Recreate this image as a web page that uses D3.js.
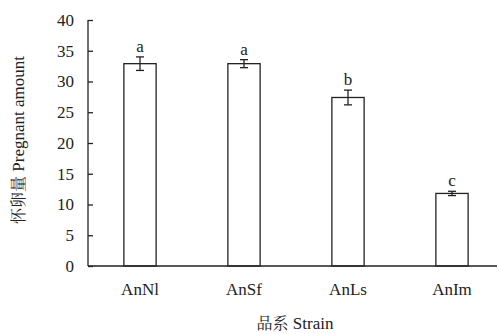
<!DOCTYPE html>
<html><head><meta charset="utf-8">
<script src="https://cdn.jsdelivr.net/npm/d3@7"></script>
<style>body{margin:0;background:#fff}</style>
</head><body><svg id="c" width="499" height="334"></svg>
<script>
const categories = ["AnNl","AnSf","AnLs","AnIm"];
const values = [32.9, 32.9, 27.4, 11.8];
const errors = [1.1, 0.65, 1.2, 0.35];
const letters = ["a","a","b","c"];
const yTicks = [0,5,10,15,20,25,30,35,40];

(function(){
const SERIF = "Liberation Serif";
const CJK = "Noto Serif CJK SC";
const svg = d3.select("#c");
const mL = 88, mR = 497, mT = 20, mB = 266;
const x = d3.scaleBand().domain(categories).range([mL, 504]).paddingInner(0.69).paddingOuter(0.345);
const y = d3.scaleLinear().domain([0,40]).range([mB, mT]);

const yAxis = svg.append("g").attr("transform",`translate(${mL},0)`)
  .call(d3.axisLeft(y).tickValues(yTicks).tickSize(-5).tickPadding(14));
yAxis.attr("font-family", SERIF).attr("font-size", 17);
yAxis.select(".domain").remove();
yAxis.selectAll("line").attr("stroke","#222").attr("stroke-width",1.3);
yAxis.selectAll("text").attr("fill","#222");
svg.append("line").attr("x1",mL).attr("x2",mL).attr("y1",y(40)).attr("y2",mB).attr("stroke","#222").attr("stroke-width",1.3);

svg.selectAll("rect.bar").data(values).enter().append("rect")
  .attr("x",(d,i)=>x(categories[i])).attr("width",x.bandwidth())
  .attr("y",d=>y(d)).attr("height",d=>mB-y(d))
  .attr("fill","#fff").attr("stroke","#222").attr("stroke-width",1.3);

svg.append("line").attr("x1",mL).attr("x2",mR).attr("y1",mB).attr("y2",mB).attr("stroke","#222").attr("stroke-width",1.5);

const eb = svg.append("g").attr("stroke","#222").attr("stroke-width",1.3);
values.forEach((v,i)=>{
  const cx = x(categories[i]) + x.bandwidth()/2;
  eb.append("line").attr("x1",cx).attr("x2",cx).attr("y1",y(v+errors[i])).attr("y2",y(v-errors[i]));
  eb.append("line").attr("x1",cx-4).attr("x2",cx+4).attr("y1",y(v+errors[i])).attr("y2",y(v+errors[i]));
  eb.append("line").attr("x1",cx-4).attr("x2",cx+4).attr("y1",y(v-errors[i])).attr("y2",y(v-errors[i]));
  svg.append("text").attr("x",cx).attr("y",y(v+errors[i])-5).attr("text-anchor","middle")
    .attr("font-family",SERIF).attr("font-size",17).attr("fill","#222").text(letters[i]);
  svg.append("text").attr("x",cx).attr("y",295).attr("text-anchor","middle")
    .attr("font-family",SERIF).attr("font-size",17).attr("fill","#222").text(categories[i]);
});

const xt = svg.append("text").attr("x",295).attr("y",329).attr("text-anchor","middle")
  .attr("font-family",SERIF).attr("font-size",17).attr("fill","#222");
xt.append("tspan").attr("font-family",CJK).attr("font-size",16).text("品系");
xt.append("tspan").attr("font-family",SERIF).text(" Strain");
const yt = svg.append("text").attr("transform","translate(24,140) rotate(-90)").attr("text-anchor","middle")
  .attr("font-family",SERIF).attr("font-size",17).attr("fill","#222");
yt.append("tspan").attr("font-family",CJK).attr("font-size",16).text("怀卵量");
yt.append("tspan").attr("font-family",SERIF).text(" Pregnant amount");
})();
</script></body></html>
